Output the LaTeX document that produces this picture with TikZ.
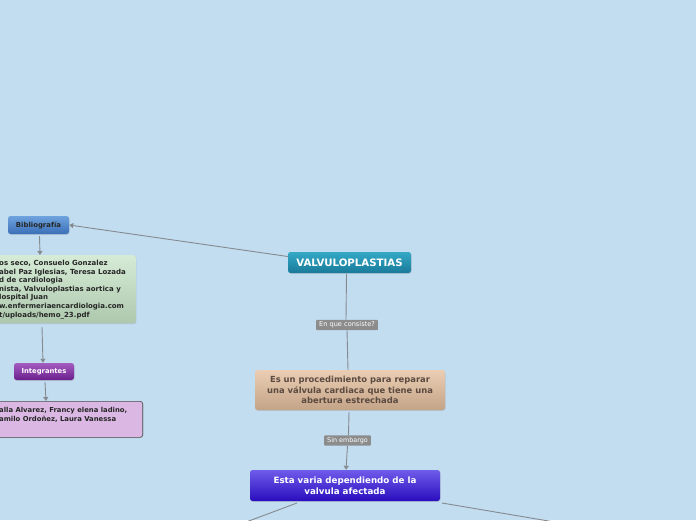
\documentclass[tikz,border=0pt]{standalone}
\usepackage{fontspec}
\setmainfont{DejaVu Sans}
\usetikzlibrary{arrows.meta,shadows}
\definecolor{bg}{HTML}{C2DDF0}
\definecolor{edge}{HTML}{858A90}
\definecolor{valt}{HTML}{33A9C6}
\definecolor{valb}{HTML}{1A7A9A}
\definecolor{bibt}{HTML}{6FA3DE}
\definecolor{bibb}{HTML}{3A6FB8}
\definecolor{grt}{HTML}{D6EBD6}
\definecolor{grb}{HTML}{ADC8AD}
\definecolor{purt}{HTML}{A45CC0}
\definecolor{purb}{HTML}{6A1F8C}
\definecolor{lila}{HTML}{DAB8E3}
\definecolor{tant}{HTML}{EBCDB4}
\definecolor{tanb}{HTML}{C4A487}
\definecolor{brn}{HTML}{5A4A40}
\definecolor{vit}{HTML}{6E5CEA}
\definecolor{vib}{HTML}{2A0DBE}
\definecolor{lblc}{HTML}{8C8C8C}
\tikzset{
  x=1pt,y=-1pt,
  box/.style={rounded corners=2.5pt,inner sep=0pt,font=\bfseries,align=center,
    drop shadow={shadow xshift=0.6pt,shadow yshift=-0.8pt,opacity=0.25}},
  lbl/.style={fill=#1,text=white,inner xsep=3pt,inner ysep=2pt,rounded corners=0.8pt},
  conn/.style={draw=edge,line width=0.9pt},
  arr/.style={conn,-{Triangle[width=5pt,length=4pt]}},
}
\begin{document}
\begin{tikzpicture}
\fill[bg] (0,0) rectangle (696,520);
\useasboundingbox (0,0) rectangle (696,520);
\clip (0,0) rectangle (696,520);

% VALVULOPLASTIAS
\node[box,top color=valt,bottom color=valb,minimum width=123pt,minimum height=21pt,text=white,
  font=\bfseries\fontsize{10.2}{12}\selectfont] (v) at (349.5,262.5) {VALVULOPLASTIAS};

% Bibliografia
\node[box,top color=bibt,bottom color=bibb,minimum width=61pt,minimum height=18pt,text=black!85,
  font=\bfseries\fontsize{6.9}{8}\selectfont] (bib) at (38.5,225) {Bibliograf\'ia};

% bibliography text
\node[box,top color=grt,bottom color=grb,minimum width=160pt,minimum height=68pt,anchor=north east] (bt) at (136,255) {};
\node[anchor=north west,align=left,inner sep=0pt,text=black!85,font=\bfseries\fontsize{7}{8.6}\selectfont] (btt) at (-1,260) {%
os seco, Consuelo Gonzalez\\
abel Paz Iglesias, Teresa Lozada\\
d de cardiologia\\
nista, Valvuloplastias aortica y\\
lospital Juan\\
w.enfermeriaencardiologia.com\\
t/uploads/hemo\_23.pdf};

% Integrantes
\node[box,top color=purt,bottom color=purb,minimum width=60pt,minimum height=17pt,text=white,
  font=\bfseries\fontsize{6.8}{8}\selectfont] (int) at (44,371.5) {Integrantes};

% integrantes text
\node[box,fill=lila,draw=black!70,line width=0.6pt,minimum width=170pt,minimum height=36pt,anchor=north east] (it) at (143,401) {};
\node[anchor=north west,align=left,inner sep=0pt,text=black!85,font=\bfseries\fontsize{6.85}{9}\selectfont] (itt) at (-1,407) {%
alla Alvarez, Francy elena ladino,\\
amilo Ordo\~nez, Laura Vanessa};

% procedure
\node[box,top color=tant,bottom color=tanb,minimum width=190pt,minimum height=40pt,text=brn,
  font=\bfseries\fontsize{8.4}{10.5}\selectfont] (p) at (350,390) {Es un procedimiento para reparar\\una v\'alvula cardiaca que tiene una\\abertura estrechada};

% Esta varia
\node[box,top color=vit,bottom color=vib,minimum width=190pt,minimum height=31pt,text=white,
  font=\bfseries\fontsize{8.7}{11}\selectfont] (e) at (345,485.5) {Esta varia dependiendo de la\\valvula afectada};

% labels
\node[lbl=lblc,font=\fontsize{6.6}{8}\selectfont] (l1) at (347,325) {En que consiste?};
\node[lbl=lblc,font=\fontsize{6.4}{8}\selectfont] (l2) at (347.5,440.5) {Sin embargo};

\coordinate (o1) at (230,528);
\coordinate (o2) at (590,528);

% connectors
\draw[arr] (v.west) ++(0,-6) coordinate (vw) -- (bib.east);
\draw[arr] (bib.south) ++(1,2) -- (bt.north -| 40,0);
\draw[arr] (42,327) coordinate (bts) -- (int.north -| 43,0);
\draw[arr] (int.south) ++(1,2) -- (it.north -| 46,0);
\draw[conn] (v.south) ++(-3,1) -- (l1.north -| 346,0);
\draw[conn] (l1.south -| 347,0) -- (p.north -| 348,0);
\draw[conn] (p.south) ++(-1,2) -- (l2.north -| 348.5,0);
\draw[arr] (l2.south -| 347.5,0) -- (e.north -| 346,0);
\draw[conn] (297,503) -- (o1);
\draw[conn] (442,503) -- (o2);
\end{tikzpicture}
\end{document}
